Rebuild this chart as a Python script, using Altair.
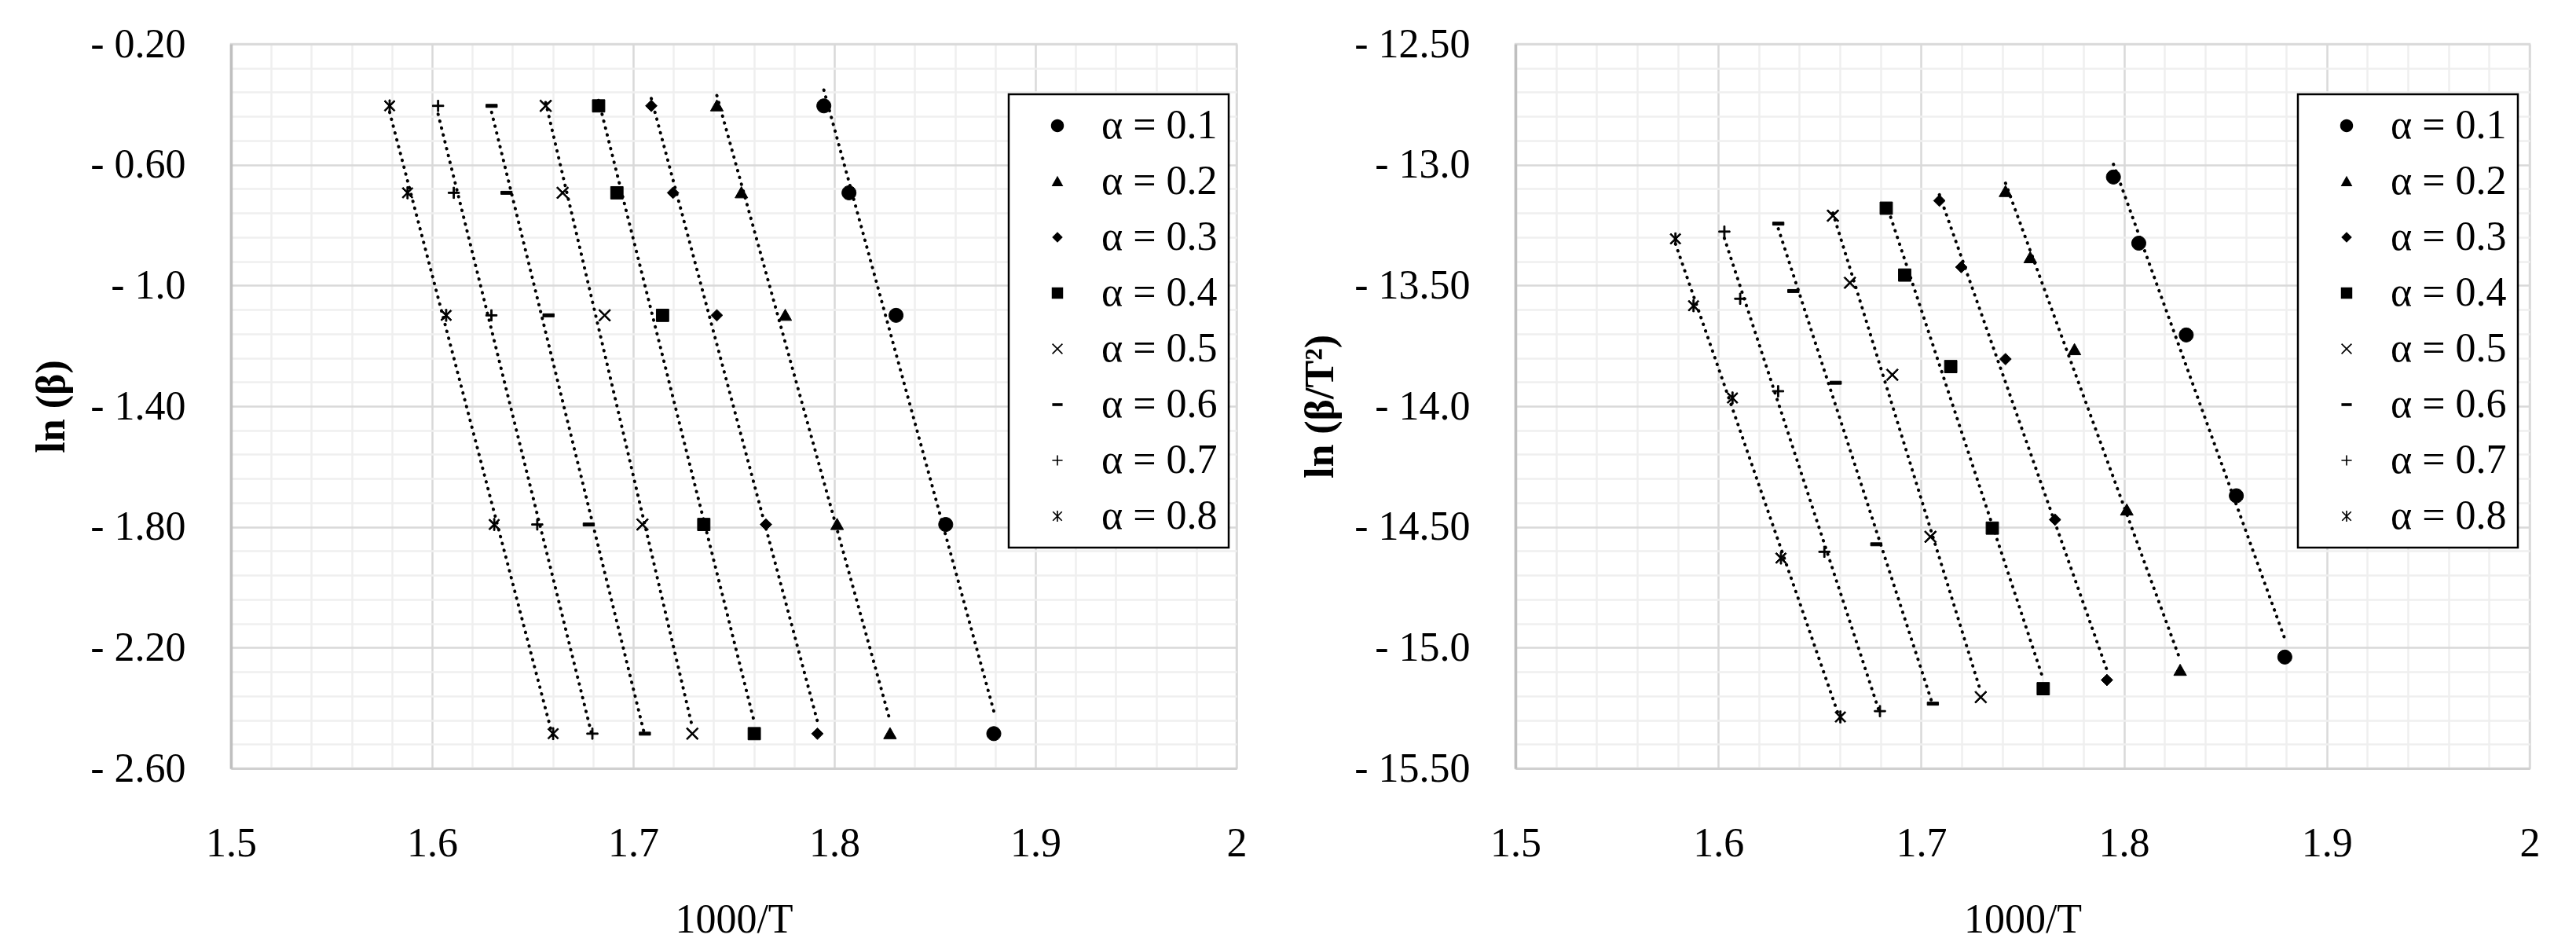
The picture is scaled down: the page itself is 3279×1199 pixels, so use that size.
import altair as alt
import pandas as pd

# ---------------- data ----------------
series = ["α = 0.1", "α = 0.2", "α = 0.3", "α = 0.4",
          "α = 0.5", "α = 0.6", "α = 0.7", "α = 0.8"]

# ln(beta) rows (five heating rates)
ln_beta = [-0.405, -0.693, -1.099, -1.792, -2.485]

# 1000/T for each conversion level (5 heating rates each)
x_a01 = [1.7948, 1.8073, 1.8307, 1.8554, 1.8793]
x_a02 = [1.7416, 1.7538, 1.7756, 1.8014, 1.8277]
x_a03 = [1.7090, 1.7198, 1.7416, 1.7660, 1.7916]
x_a04 = [1.6828, 1.6919, 1.7146, 1.7351, 1.7602]
x_a05 = [1.6565, 1.6649, 1.6858, 1.7046, 1.7294]
x_a06 = [1.6296, 1.6370, 1.6579, 1.6779, 1.7058]
x_a07 = [1.6030, 1.6108, 1.6295, 1.6523, 1.6797]
x_a08 = [1.5789, 1.5878, 1.6070, 1.6309, 1.6602]

# ln(beta/T^2) values (right panel)
r_a01 = [-13.051, -13.325, -13.705, -14.371, -15.039]
r_a02 = [-13.111, -13.385, -13.766, -14.430, -15.094]
r_a03 = [-13.149, -13.424, -13.805, -14.470, -15.134]
r_a04 = [-13.180, -13.457, -13.836, -14.505, -15.170]
r_a05 = [-13.211, -13.489, -13.870, -14.541, -15.205]
r_a06 = [-13.244, -13.523, -13.903, -14.572, -15.232]
r_a07 = [-13.277, -13.555, -13.938, -14.603, -15.263]
r_a08 = [-13.307, -13.584, -13.966, -14.629, -15.287]

x_tick_values = [1.5, 1.6, 1.7, 1.8, 1.9, 2.0]
x_tick_labels = ["1.5", "1.6", "1.7", "1.8", "1.9", "2"]
yl_tick_values = [-0.2, -0.6, -1.0, -1.4, -1.8, -2.2, -2.6]
yl_tick_labels = ["- 0.20", "- 0.60", "- 1.0", "- 1.40", "- 1.80", "- 2.20", "- 2.60"]
yr_tick_values = [-12.5, -13.0, -13.5, -14.0, -14.5, -15.0, -15.5]
yr_tick_labels = ["- 12.50", "- 13.0", "- 13.50", "- 14.0", "- 14.50", "- 15.0", "- 15.50"]

# ---------------- tables ----------------
xs = [x_a01, x_a02, x_a03, x_a04, x_a05, x_a06, x_a07, x_a08]
rs = [r_a01, r_a02, r_a03, r_a04, r_a05, r_a06, r_a07, r_a08]
rows_l, rows_r = [], []
for s, xv, rv in zip(series, xs, rs):
    for i in range(5):
        rows_l.append({"series": s, "x": xv[i], "y": ln_beta[i]})
        rows_r.append({"series": s, "x": xv[i], "y": rv[i]})
df_l = pd.DataFrame(rows_l)
df_r = pd.DataFrame(rows_r)

# ---------------- marker glyphs (filled polygons) ----------------
def poly(*pts):
    return "M" + "L".join(f"{x:.3f},{y:.3f}" for x, y in pts) + "Z"


def hbar(e, t):
    return poly((-e, -t), (e, -t), (e, t), (-e, t))


def vbar(e, t):
    return poly((-t, -e), (t, -e), (t, e), (-t, e))


def xcross(e, t):
    d = t * 0.7071
    r1 = poly((-e + d, -e - d), (e + d, e - d), (e - d, e + d), (-e - d, -e + d))
    r2 = poly((-e + d, e + d), (-e - d, e - d), (e - d, -e - d), (e + d, -e + d))
    return r1 + r2


T = 0.1
shape_paths = [
    "M-1,0A1,1 0 1,0 1,0A1,1 0 1,0 -1,0Z",
    poly((0, -0.87), (0.9, 0.72), (-0.9, 0.72)),
    poly((0, -0.82), (0.82, 0), (0, 0.82), (-0.82, 0)),
    poly((-0.88, -0.88), (0.88, -0.88), (0.88, 0.88), (-0.88, 0.88)),
    xcross(0.78, T),
    hbar(0.8, 0.22),
    hbar(0.8, T) + vbar(0.8, T),
    xcross(0.7, T) + vbar(0.86, T),
]

FONT = "Liberation Serif"
FS = 52
MAJOR = "#d9d9d9"
MINOR = "#efefef"


def label_expr(vals, labs):
    parts = [f"abs(datum.value - ({v})) < 0.0001 ? '{l}'" for v, l in zip(vals, labs)]
    return " : ".join(parts) + " : ''"


x_minor = [round(1.5 + 0.02 * i, 4) for i in range(26)]
yl_minor = [round(-2.6 + 0.08 * i, 4) for i in range(31)]
yr_minor = [round(-15.5 + 0.1 * i, 4) for i in range(31)]


def panel(df, ydomain, yminor, yvals, ylabs, ytitle, major_test, w, h, lx, ly):
    xaxis = alt.Axis(
        values=x_minor, labelExpr=label_expr(x_tick_values, x_tick_labels),
        title="1000/T", ticks=False, labelOverlap=False, labelFlush=False,
        labelPadding=70, titlePadding=46, titleFontWeight="normal",
        gridColor={"condition": {"test": "abs(datum.value*10 - round(datum.value*10)) < 0.001",
                                 "value": MAJOR}, "value": MINOR},
        gridWidth=2.5, domainColor="#d0d0d0", domainWidth=3,
    )
    yaxis = alt.Axis(
        values=yminor, labelExpr=label_expr(yvals, ylabs),
        title=ytitle, ticks=False, labelOverlap=False, labelFlush=False,
        labelPadding=58, titlePadding=22, titleFontWeight="bold",
        gridColor={"condition": {"test": major_test, "value": MAJOR}, "value": MINOR},
        gridWidth=2.5, domainColor="#bfbfbf", domainWidth=3.5,
    )
    xscale = alt.Scale(domain=[1.5, 2.0], nice=False, zero=False)
    yscale = alt.Scale(domain=ydomain, nice=False, zero=False)

    lines = alt.Chart(df).transform_regression(
        "x", "y", groupby=["series"]
    ).mark_line(
        color="black", strokeWidth=4, strokeDash=[0.5, 8.5], strokeCap="round"
    ).encode(
        x=alt.X("x:Q", scale=xscale, axis=xaxis),
        y=alt.Y("y:Q", scale=yscale, axis=yaxis),
        detail="series:N",
    )
    pts = alt.Chart(df).mark_point(
        filled=True, fill="black", stroke="black", strokeWidth=1, opacity=1, size=324
    ).encode(
        x=alt.X("x:Q", scale=xscale, axis=xaxis),
        y=alt.Y("y:Q", scale=yscale, axis=yaxis),
        shape=alt.Shape("series:N", scale=alt.Scale(domain=series, range=shape_paths),
                        legend=alt.Legend(
                            title=None, orient="none", legendX=lx, legendY=ly,
                            strokeColor="black", fillColor="white", padding=14,
                            labelFont=FONT, labelFontSize=FS, labelColor="black",
                            symbolSize=270, symbolFillColor="black",
                            symbolStrokeColor="black", symbolStrokeWidth=1,
                            symbolOpacity=1,
                            rowPadding=19, labelOffset=30, symbolOffset=22,
                            labelLimit=400)),
    )
    return alt.layer(lines, pts).properties(width=w, height=h)


left = panel(df_l, [-2.6, -0.2], yl_minor, yl_tick_values, yl_tick_labels, "ln (β)",
             "abs((datum.value + 0.2)/0.4 - round((datum.value + 0.2)/0.4)) < 0.001",
             1280, 922, 990, 64)
right = panel(df_r, [-15.5, -12.5], yr_minor, yr_tick_values, yr_tick_labels, "ln (β/T²)",
              "abs(datum.value*2 - round(datum.value*2)) < 0.001",
              1291, 922, 996, 64)

chart = alt.hconcat(left, right, spacing=63).resolve_scale(
    shape="independent", x="independent", y="independent"
).resolve_legend(shape="independent").properties(
    padding={"left": 30, "top": 20, "right": 5, "bottom": 5},
    background="white",
).configure_view(
    stroke="#d9d9d9", strokeWidth=2.5
).configure_axis(
    labelFont=FONT, labelFontSize=FS, labelColor="black",
    titleFont=FONT, titleFontSize=FS, titleColor="black",
).configure_legend(strokeWidth=2.5)

chart.save("out.html", embed_options={"renderer": "svg", "actions": False})
